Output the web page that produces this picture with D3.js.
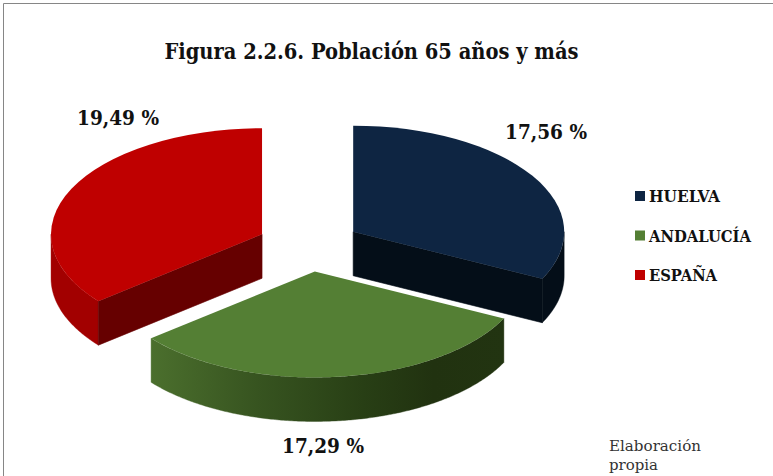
<!DOCTYPE html>
<html lang="es"><head><meta charset="utf-8">
<script src="https://cdn.jsdelivr.net/npm/d3@7/dist/d3.min.js"></script>
<style>
html,body{margin:0;padding:0;background:#fff}
svg{display:block}
text{font-family:"DejaVu Serif Condensed","DejaVu Serif",serif;font-stretch:condensed;fill:#111}
</style></head><body>
<svg id="chart" width="773" height="476"></svg>
<script>
const categories = ["HUELVA", "ANDALUCÍA", "ESPAÑA"];
const values = [17.56, 17.29, 19.49];
const valueLabels = ["17,56 %", "17,29 %", "19,49 %"];
const titleText = "Figura 2.2.6. Población 65 años y más";
const noteLines = ["Elaboración", "propia"];

const topColors = ["#0e2542", "#547f34", "#bf0000"];

const W = 773, H = 476;
const cx = 309, cy = 245.5, rx = 211, ry = 106, depth = 44, explode = 52;
const svg = d3.select("#chart");

// frame
svg.append("path").attr("d", `M3.5,${H}V3.5H${W}`).attr("fill", "none").attr("stroke", "#868686").attr("stroke-width", 1);

const defs = svg.append("defs");
const grad = defs.append("linearGradient").attr("id", "greenWall").attr("gradientUnits", "userSpaceOnUse");
[[0, "#4b6f2d"], [0.3, "#375420"], [0.6, "#283f15"], [0.8, "#213210"], [1, "#223411"]].forEach(([o, c]) =>
  grad.append("stop").attr("offset", o).attr("stop-color", c));

const pie = d3.pie().sort(null).value(d => d);
const arcs = pie(values);
const sx = d3.scaleLinear().domain([-1, 1]).range([-rx, rx]);
const sy = d3.scaleLinear().domain([-1, 1]).range([-ry, ry]);
const unitArc = d3.arc().innerRadius(0).outerRadius(1);

const wallStyles = [
  {radial: "#040e18", outer: "#040e18"},
  {radial: null, outer: "url(#greenWall)"},
  {radial: "#660000", outer: "#a20000"}
];

arcs.forEach((a, i) => {
  const mid = (a.startAngle + a.endAngle) / 2;
  const ox = cx + explode * Math.sin(mid);
  const oy = cy - explode * Math.cos(mid) * (ry / rx);
  const g = svg.append("g").attr("transform", `translate(${ox},${oy})`);
  const pt = t => [sx(Math.sin(t)), sy(-Math.cos(t))];
  const line = d3.line();

  // Outer wall: only the part of the rim that faces the viewer (angles between PI/2 and 3PI/2)
  const t0 = Math.max(a.startAngle, Math.PI / 2), t1 = Math.min(a.endAngle, 3 * Math.PI / 2);
  if (t1 > t0) {
    const ts = d3.range(t0, t1, 0.01).concat([t1]);
    const upper = ts.map(pt);
    const lower = ts.map(pt).reverse().map(([x, y]) => [x, y + depth]);
    const fill = wallStyles[i].outer;
    if (i === 1) {
      const xs = upper.map(p => p[0]);
      grad.attr("x1", d3.min(xs)).attr("x2", d3.max(xs)).attr("y1", 0).attr("y2", 0);
    }
    g.append("path").attr("d", line(upper.concat(lower)) + "Z").attr("fill", fill)
      .attr("stroke", fill).attr("stroke-width", 0.4);
  }
  // Radial cut wall, seen where the cut faces the viewer
  if (wallStyles[i].radial) {
    const edge = i === 0 ? a.endAngle : a.startAngle;
    const p = pt(edge);
    const quad = [[0, 0], p, [p[0], p[1] + depth], [0, depth]];
    g.append("path").attr("d", line(quad) + "Z").attr("fill", wallStyles[i].radial)
      .attr("stroke", wallStyles[i].radial).attr("stroke-width", 0.6);
  }
  // Top face
  g.append("path")
    .attr("d", unitArc(a))
    .attr("transform", `scale(${sx(1)},${sy(1)})`)
    .attr("fill", topColors[i]);
});

// title
svg.append("text").attr("x", 371.5).attr("y", 59).attr("text-anchor", "middle")
  .attr("font-size", 23).attr("font-weight", 700).attr("textLength", 414).attr("lengthAdjust", "spacingAndGlyphs").text(titleText);

// value labels
const labelPos = [[505, 139], [282, 453], [77, 125]];
valueLabels.forEach((t, i) => svg.append("text").attr("x", labelPos[i][0]).attr("y", labelPos[i][1])
  .attr("font-size", 21).attr("font-weight", 700).attr("textLength", 82).attr("lengthAdjust", "spacingAndGlyphs").text(t));

// legend
const legendY = d3.scalePoint().domain(categories).range([196, 275]);
const legendWidths = [71, 102, 68];
categories.forEach((c, i) => {
  svg.append("rect").attr("x", 635).attr("y", legendY(c) - 5).attr("width", 10).attr("height", 10).attr("fill", topColors[i]);
  svg.append("text").attr("x", 649).attr("y", legendY(c) + 6).attr("font-size", 16).attr("font-weight", 700)
    .attr("textLength", legendWidths[i]).attr("lengthAdjust", "spacingAndGlyphs").text(c);
});

// note
const noteWidths = [92, 49];
noteLines.forEach((t, i) => svg.append("text").attr("x", 609).attr("y", 451 + i * 19)
  .attr("font-size", 15.5).style("fill", "#333")
  .attr("textLength", noteWidths[i]).attr("lengthAdjust", "spacingAndGlyphs").text(t));
</script>
</body></html>
